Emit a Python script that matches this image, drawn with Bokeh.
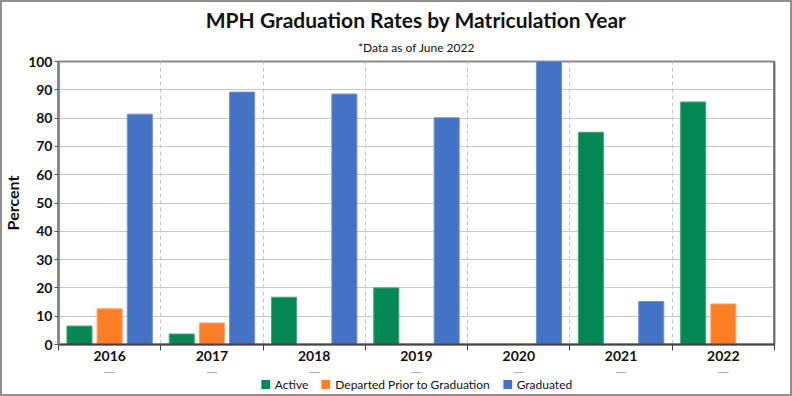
import numpy as np
from bokeh.plotting import figure
from bokeh.layouts import column
from bokeh.models import (ColumnDataSource, Range1d, FixedTicker, Legend,
                          LegendItem, Span, Title)
from bokeh.transform import dodge
from bokeh.embed import file_html
from bokeh.resources import INLINE

years = ["2016", "2017", "2018", "2019", "2020", "2021", "2022"]
active = [6.5, 3.7, 16.7, 20.0, 0.0, 75.0, 85.7]
departed = [12.6, 7.6, 0.0, 0.0, 0.0, 0.0, 14.3]
graduated = [81.4, 89.2, 88.5, 80.1, 100.0, 15.2, 0.0]
series_names = ["Active", "Departed Prior to Graduation", "Graduated"]
colors = ["#038855", "#FF7F27", "#4472C4"]
edge_colors = ["#3fa77c", "#ffa060", "#7193d3"]
y_ticks = [0, 10, 20, 30, 40, 50, 60, 70, 80, 90, 100]

FONT = "Lato"
n = len(years)
centers = list(np.arange(n) + 0.5)
bounds = list(np.arange(n + 1).astype(float))

src = ColumnDataSource(dict(x=centers, active=active, departed=departed,
                            graduated=graduated))

p = figure(width=792, height=372, x_range=Range1d(0, n), y_range=Range1d(0, 100),
           output_backend="svg", toolbar_location=None, title=None,
           min_border_left=58, min_border_right=18, min_border_top=61,
           min_border_bottom=28)
p.background_fill_color = "white"
p.border_fill_color = None
p.outline_line_color = "#8a8a8a"
p.outline_line_width = 2

w = 0.245
fields = ["active", "departed", "graduated"]
offsets = [-0.295, 0.0, 0.295]
for f, off, c, ec in zip(fields, offsets, colors, edge_colors):
    p.vbar(x=dodge("x", off, range=p.x_range), top=f, width=w, source=src,
           fill_color=c, line_color=ec, line_width=1)

# x axis: labels at centers, ticks at category bounds
xt = FixedTicker(ticks=centers, minor_ticks=bounds)
p.xaxis.ticker = xt
p.xaxis.major_label_overrides = {c: y for c, y in zip(centers, years)}
p.xaxis.major_tick_line_color = None
p.xaxis.major_tick_out = 0
p.xaxis.major_tick_in = 0
p.xaxis.minor_tick_line_color = "#444444"
p.xaxis.minor_tick_out = 6
p.xaxis.minor_tick_in = 0
p.xaxis.axis_line_color = "#444444"
p.xaxis.axis_line_width = 2
p.xaxis.major_label_text_font = FONT
p.xaxis.major_label_text_font_size = "14px"
p.xaxis.major_label_text_font_style = "bold"
p.xaxis.major_label_text_color = "#111111"
p.xaxis.major_label_standoff = 0

p.xgrid.ticker = xt
p.xgrid.grid_line_color = None
p.xgrid.minor_grid_line_color = "#c4c4c4"
p.xgrid.minor_grid_line_dash = "4 3"
p.xgrid.minor_grid_line_width = 1

p.yaxis.ticker = FixedTicker(ticks=y_ticks)
p.yaxis.minor_tick_line_color = None
p.yaxis.major_tick_out = 4
p.yaxis.major_tick_in = 0
p.yaxis.major_tick_line_color = "#555555"
p.yaxis.axis_line_color = "#8a8a8a"
p.yaxis.axis_line_width = 3
p.yaxis.major_label_text_font = FONT
p.yaxis.major_label_text_font_size = "14px"
p.yaxis.major_label_text_font_style = "bold"
p.yaxis.major_label_text_color = "#111111"
p.yaxis.major_label_standoff = 2
p.yaxis.axis_label = "Percent"
p.yaxis.axis_label_text_font = FONT
p.yaxis.axis_label_text_font_size = "16px"
p.yaxis.axis_label_text_font_style = "bold"
p.yaxis.axis_label_text_color = "#111111"
p.yaxis.axis_label_standoff = 3

p.ygrid.grid_line_color = "#c8c8c8"
p.ygrid.grid_line_width = 1

p.add_layout(Span(location=n, dimension="height", line_color="#444444", line_width=2))

# titles (first added sits closest to the plot)
p.add_layout(Title(text="*Data as of June 2022", text_font=FONT, text_font_size="12px",
                   text_font_style="normal", align="center", text_color="#111111",
                   standoff=13, text_line_height=0.8), "above")
p.add_layout(Title(text="MPH Graduation Rates by Matriculation Year", text_font=FONT,
                   text_font_size="21px", text_font_style="bold", align="center",
                   text_color="#111111", standoff=0), "above")

# legend in its own strip below the chart; its y range lies far from the data,
# so its renderers (fill only, no outline) just supply the legend swatches
lg = figure(width=792, height=24, x_range=Range1d(0, n), y_range=Range1d(-300, -200),
            output_backend="svg", toolbar_location=None, title=None,
            min_border_left=0, min_border_right=0, min_border_top=0,
            min_border_bottom=0)
lg.axis.visible = False
lg.grid.visible = False
lg.outline_line_color = None
lg.background_fill_color = None
lg.border_fill_color = None
items = []
for name, f, c in zip(series_names, fields, colors):
    r = lg.vbar(x="x", top=f, width=0.1, source=src, fill_color=c, line_color=None)
    items.append(LegendItem(label=name, renderers=[r]))
legend = Legend(items=items, orientation="horizontal", location="center",
                glyph_width=11, glyph_height=11, label_text_font=FONT,
                label_text_font_size="12px", label_text_color="#111111",
                label_standoff=4, spacing=12, padding=0, margin=0,
                border_line_color=None, background_fill_alpha=0)
lg.add_layout(legend, "center")

layout = column(p, lg, spacing=0, width=792, height=396)
layout.styles = {"background-color": "white",
                 "box-shadow": "inset 0 0 0 2px #8f8f8f"}
open("out.html", "w").write(file_html(layout, INLINE))
